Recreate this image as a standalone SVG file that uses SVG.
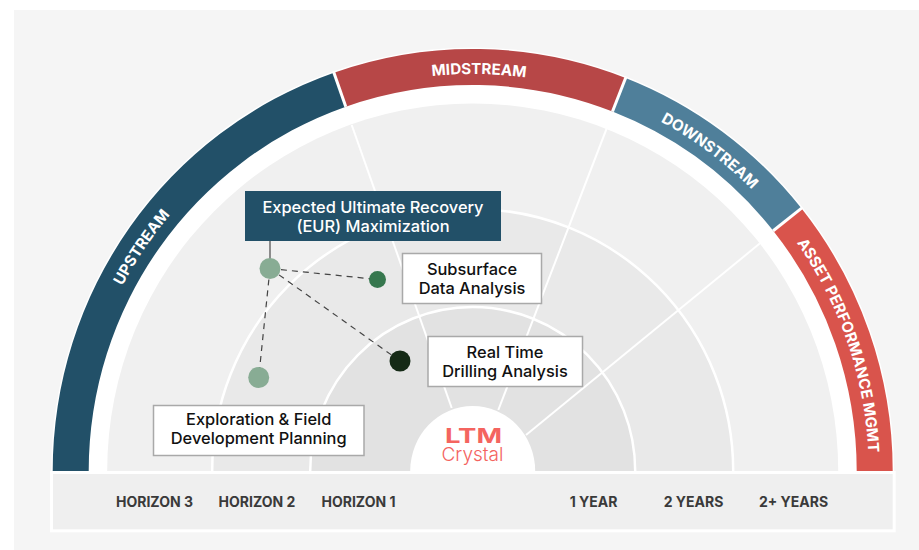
<svg xmlns="http://www.w3.org/2000/svg" width="919" height="550" viewBox="0 0 919 550">
<style>
text{font-family:Inter,"Noto Sans","Liberation Sans",sans-serif}
.band{font-size:15.2px;font-weight:700;fill:#fff;text-anchor:middle}
.box{font-size:16.4px;font-weight:500;fill:#111;text-anchor:middle}
.eur{font-size:16.4px;font-weight:500;fill:#fff;text-anchor:middle}
.axis{font-size:14px;font-weight:700;fill:#3a3a3a;text-anchor:middle}
.wb{fill:#fff;stroke:#a9a9a9;stroke-width:1.5}
.spoke{stroke:#fff;stroke-width:2;fill:none}
.ring{stroke:#fff;stroke-width:2.5}
.sep{stroke:#fff;stroke-width:3}
.dash{stroke:#444;stroke-width:1.2;stroke-dasharray:6 5;fill:none}
</style>
<defs>
<path id="bandPath" d="M76.7 471A396 397 0 0 1 868.7 471"/>
</defs>
<rect width="919" height="550" fill="#fff"/>
<rect x="14" y="10" width="905" height="540" fill="#f5f5f5"/>
<g id="fan">
<path d="M51.2 471A421.5 423.5 0 0 1 894.2 471Z" fill="#fff"/>
<path d="M107.2 471A365.5 367.5 0 0 1 838.2 471Z" fill="#f0f0f0"/>
<path class="ring" d="M212.2 471A260.5 262 0 0 1 733.2 471" fill="#e9e9e9"/>
<path class="ring" d="M310.2 471A162.5 164 0 0 1 635.2 471" fill="#e2e2e2"/>
</g>
<g id="spokes">
<line class="spoke" x1="351.7" y1="125" x2="451.7" y2="408"/>
<line class="spoke" x1="606.7" y1="128.3" x2="498.3" y2="410"/>
<line class="spoke" x1="760" y1="243.3" x2="526" y2="435"/>
</g>
<g id="upstream">
<path d="M52.7 471A420 422 0 0 1 333.9 72.7L345.8 106.7A384 386 0 0 0 88.7 471Z" fill="#225068"/>
<text class="band"><textPath href="#bandPath" startOffset="18.9%">UPSTREAM</textPath></text>
</g>
<g id="midstream">
<path d="M333.9 72.7A420 422 0 0 1 625.6 77.9L612.5 111.5A384 386 0 0 0 345.8 106.7Z" fill="#b74747"/>
<text class="band"><textPath href="#bandPath" startOffset="50.5%">MIDSTREAM</textPath></text>
</g>
<g id="downstream">
<path d="M625.6 77.9A420 422 0 0 1 801.4 208.3L773.2 230.7A384 386 0 0 0 612.5 111.5Z" fill="#4f7f9a"/>
<text class="band"><textPath href="#bandPath" startOffset="70.3%">DOWNSTREAM</textPath></text>
</g>
<g id="asset-performance">
<path d="M801.4 208.3A420 422 0 0 1 892.7 471L856.7 471A384 386 0 0 0 773.2 230.7Z" fill="#d9544c"/>
<text class="band"><textPath href="#bandPath" startOffset="89.5%">ASSET PERFORMANCE MGMT</textPath></text>
</g>
<g id="separators">
<line class="sep" x1="333.4" y1="71.3" x2="345.8" y2="106.7"/>
<line class="sep" x1="626.2" y1="76.5" x2="612.5" y2="111.5"/>
<line class="sep" x1="802.6" y1="207.4" x2="773.2" y2="230.7"/>
</g>
<g id="connectors">
<line x1="270" y1="241" x2="270" y2="259" stroke="#555" stroke-width="1.3"/>
<line class="dash" x1="270" y1="268.5" x2="377.5" y2="279.5"/>
<line class="dash" x1="270" y1="268.5" x2="400" y2="361"/>
<line class="dash" x1="270" y1="268.5" x2="258.7" y2="377.5"/>
</g>
<g id="node-primary"><circle cx="270" cy="268.5" r="10.5" fill="#88ac94"/></g>
<g id="node-subsurface"><circle cx="377.5" cy="279.5" r="8.5" fill="#36774e"/></g>
<g id="node-drilling"><circle cx="400" cy="361" r="10.5" fill="#152a16"/></g>
<g id="node-exploration"><circle cx="258.7" cy="377.5" r="10.5" fill="#88ac94"/></g>
<g id="label-eur">
<rect x="245" y="191" width="256" height="50" fill="#225068"/>
<text class="eur" x="373" y="213">Expected Ultimate Recovery</text>
<text class="eur" x="373" y="232">(EUR) Maximization</text>
</g>
<g id="label-subsurface">
<rect class="wb" x="402.5" y="253.5" width="139" height="50"/>
<text class="box" x="472" y="275">Subsurface</text>
<text class="box" x="472" y="294">Data Analysis</text>
</g>
<g id="label-drilling">
<rect class="wb" x="428" y="336.5" width="154.5" height="50"/>
<text class="box" x="505" y="358">Real Time</text>
<text class="box" x="505" y="377">Drilling Analysis</text>
</g>
<g id="label-exploration">
<rect class="wb" x="153.5" y="405.5" width="210.5" height="50"/>
<text class="box" x="258.7" y="425">Exploration &amp; Field</text>
<text class="box" x="258.7" y="444">Development Planning</text>
</g>
<g id="hub">
<path d="M410.2 471A62.5 65 0 0 1 535.2 471Z" fill="#fff"/>
<text x="445" y="442.7" font-size="20" font-weight="700" fill="#f4645f" textLength="57" lengthAdjust="spacingAndGlyphs">LTM</text>
<text x="472.5" y="461" font-size="19" font-weight="300" fill="#f4645f" text-anchor="middle">Crystal</text>
</g>
<g id="axis">
<rect x="51.5" y="472.5" width="842.7" height="58.3" fill="#efefef" stroke="#fff" stroke-width="3"/>
<text class="axis" x="154.5" y="507">HORIZON 3</text>
<text class="axis" x="257" y="507">HORIZON 2</text>
<text class="axis" x="358.5" y="507">HORIZON 1</text>
<text class="axis" x="593.5" y="507">1 YEAR</text>
<text class="axis" x="693.5" y="507">2 YEARS</text>
<text class="axis" x="793.5" y="507">2+ YEARS</text>
</g>
</svg>
